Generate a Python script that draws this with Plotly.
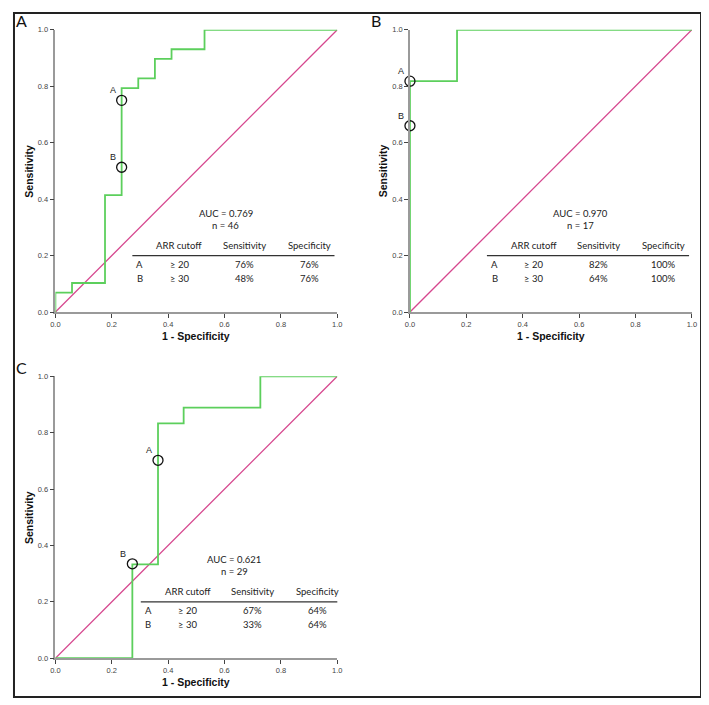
import plotly.graph_objects as go

# ROC step curves (1 - specificity, sensitivity)
a_fpr = [0.0, 0.0, 0.059, 0.176, 0.235, 0.294, 0.353, 0.412, 0.529, 1.0]
a_tpr = [0.0, 0.069, 0.103, 0.414, 0.793, 0.828, 0.897, 0.931, 1.0, 1.0]
b_fpr = [0.0, 0.0, 0.167, 1.0]
b_tpr = [0.0, 0.818, 1.0, 1.0]
c_fpr = [0.0, 0.273, 0.364, 0.455, 0.727, 1.0]
c_tpr = [0.0, 0.333, 0.833, 0.889, 1.0, 1.0]

# cutoff points A and B on each curve
a_pts_x = [0.235, 0.235]
a_pts_y = [0.75, 0.513]
b_pts_x = [0.0, 0.0]
b_pts_y = [0.818, 0.66]
c_pts_x = [0.364, 0.273]
c_pts_y = [0.702, 0.335]
point_names = ["A", "B"]

auc = ["0.769", "0.970", "0.621"]
n_cases = [46, 17, 29]
cutoffs = ["≥ 20", "≥ 30"]
sensitivity = [["76%", "48%"], ["82%", "64%"], ["67%", "33%"]]
specificity = [["76%", "76%"], ["100%", "100%"], ["64%", "64%"]]
panel_letters = ["A", "B", "C"]

# the page body has an 8px margin, so the figure is laid out in window pixels minus 8
OFF = 8
W, H = 709 - OFF, 705 - OFF
GREEN = "#5ccf5c"
PINK = "#d6468e"
TEXT_FONT = "Lato"
AX_FONT = "Liberation Sans"


def px_x(v):
    return (v - OFF) / W


def px_y(v):
    return 1 - (v - OFF) / H


# window-pixel boxes of each plot area (left, right, top, bottom)
boxes = [(51, 337, 26, 312), (410.7, 696.7, 26, 312), (51, 337, 377, 662.7)]
table_shift = [0.0, 0.0, 0.03]

curves = [(a_fpr, a_tpr), (b_fpr, b_tpr), (c_fpr, c_tpr)]
points = [(a_pts_x, a_pts_y), (b_pts_x, b_pts_y), (c_pts_x, c_pts_y)]

fig = go.Figure()
annotations = []
shapes = []

for i, (box, (fx, fy), (px, py)) in enumerate(zip(boxes, curves, points)):
    l, r, t, b = box
    k = "" if i == 0 else str(i + 1)
    xa, ya = "x" + k, "y" + k
    axis_style = dict(
        range=[0, 1], dtick=0.2, tickformat=".1f", showgrid=False, zeroline=False,
        showline=True, linecolor="#9a9a9a", linewidth=1.5, ticks="outside",
        ticklen=4, tickwidth=1.2, tickcolor="#444",
        tickfont=dict(family=AX_FONT, size=7.5, color="#444"),
    )
    fig.update_layout(**{
        "xaxis" + k: dict(axis_style, domain=[px_x(l), px_x(r)], anchor=ya),
        "yaxis" + k: dict(axis_style, domain=[px_y(b), px_y(t)], anchor=xa),
    })

    fig.add_trace(go.Scatter(x=[0, 1], y=[0, 1], mode="lines", xaxis=xa, yaxis=ya,
                             line=dict(color=PINK, width=1.3), cliponaxis=False,
                             showlegend=False))
    fig.add_trace(go.Scatter(x=fx, y=fy, mode="lines", line_shape="hv", xaxis=xa, yaxis=ya,
                             line=dict(color=GREEN, width=1.8), cliponaxis=False,
                             showlegend=False))
    fig.add_trace(go.Scatter(x=px, y=py, mode="markers", xaxis=xa, yaxis=ya,
                             marker=dict(symbol="circle-open", size=10, color="#111",
                                         line=dict(width=1.3)),
                             cliponaxis=False, showlegend=False))
    for name, x, y in zip(point_names, px, py):
        annotations.append(dict(x=x, y=y, xref=xa, yref=ya, text=name, showarrow=False,
                                xshift=-9, yshift=10, xanchor="center", yanchor="middle",
                                font=dict(family=AX_FONT, size=9, color="#222")))

    # axis titles and panel letter
    paper = dict(xref="paper", yref="paper", showarrow=False, xanchor="center",
                 yanchor="middle")
    annotations.append(dict(paper, x=px_x(l - 27), y=px_y((t + b) / 2),
                            text="<b>Sensitivity</b>", textangle=-90,
                            font=dict(family=AX_FONT, size=10.5, color="#111")))
    annotations.append(dict(paper, x=px_x((l + r) / 2), y=px_y(b + 24),
                            text="<b>1 - Specificity</b>",
                            font=dict(family=AX_FONT, size=10.5, color="#111")))
    annotations.append(dict(paper, x=px_x(l - 34), y=px_y(t - 9),
                            text=panel_letters[i],
                            font=dict(family=TEXT_FONT, size=16, color="#111")))

    # AUC text and table
    s = table_shift[i]
    tf = dict(family=TEXT_FONT, size=9.5, color="#222")
    data_ref = dict(xref=xa, yref=ya, showarrow=False, xanchor="center", yanchor="middle",
                    font=tf)
    annotations.append(dict(data_ref, x=0.605 + s, y=0.35, text="AUC = " + auc[i]))
    annotations.append(dict(data_ref, x=0.605 + s, y=0.308, text="n = " + str(n_cases[i])))
    cols = [0.30 + s, 0.44 + s, 0.67 + s, 0.90 + s]
    header = ["", "ARR cutoff", "Sensitivity", "Specificity"]
    for cx, h in zip(cols, header):
        if h:
            annotations.append(dict(data_ref, x=cx, y=0.235, text=h))
    shapes.append(dict(type="line", xref=xa, yref=ya, x0=0.273 + s, x1=0.99 + s,
                       y0=0.2, y1=0.2, line=dict(color="#333", width=1.4)))
    for j, ry in enumerate([0.168, 0.118]):
        row = [point_names[j], cutoffs[j], sensitivity[i][j], specificity[i][j]]
        for cx, txt in zip(cols, row):
            annotations.append(dict(data_ref, x=cx, y=ry, text=txt))

# outer frame
shapes.append(dict(type="rect", xref="paper", yref="paper", x0=1 / W, x1=px_x(706),
                   y0=px_y(702), y1=1 - 1 / H, line=dict(color="#222", width=2)))

fig.update_layout(
    width=W, height=H, margin=dict(l=0, r=0, t=0, b=0),
    paper_bgcolor="white", plot_bgcolor="white",
    annotations=annotations, shapes=shapes,
)

fig.write_html("out.html")
